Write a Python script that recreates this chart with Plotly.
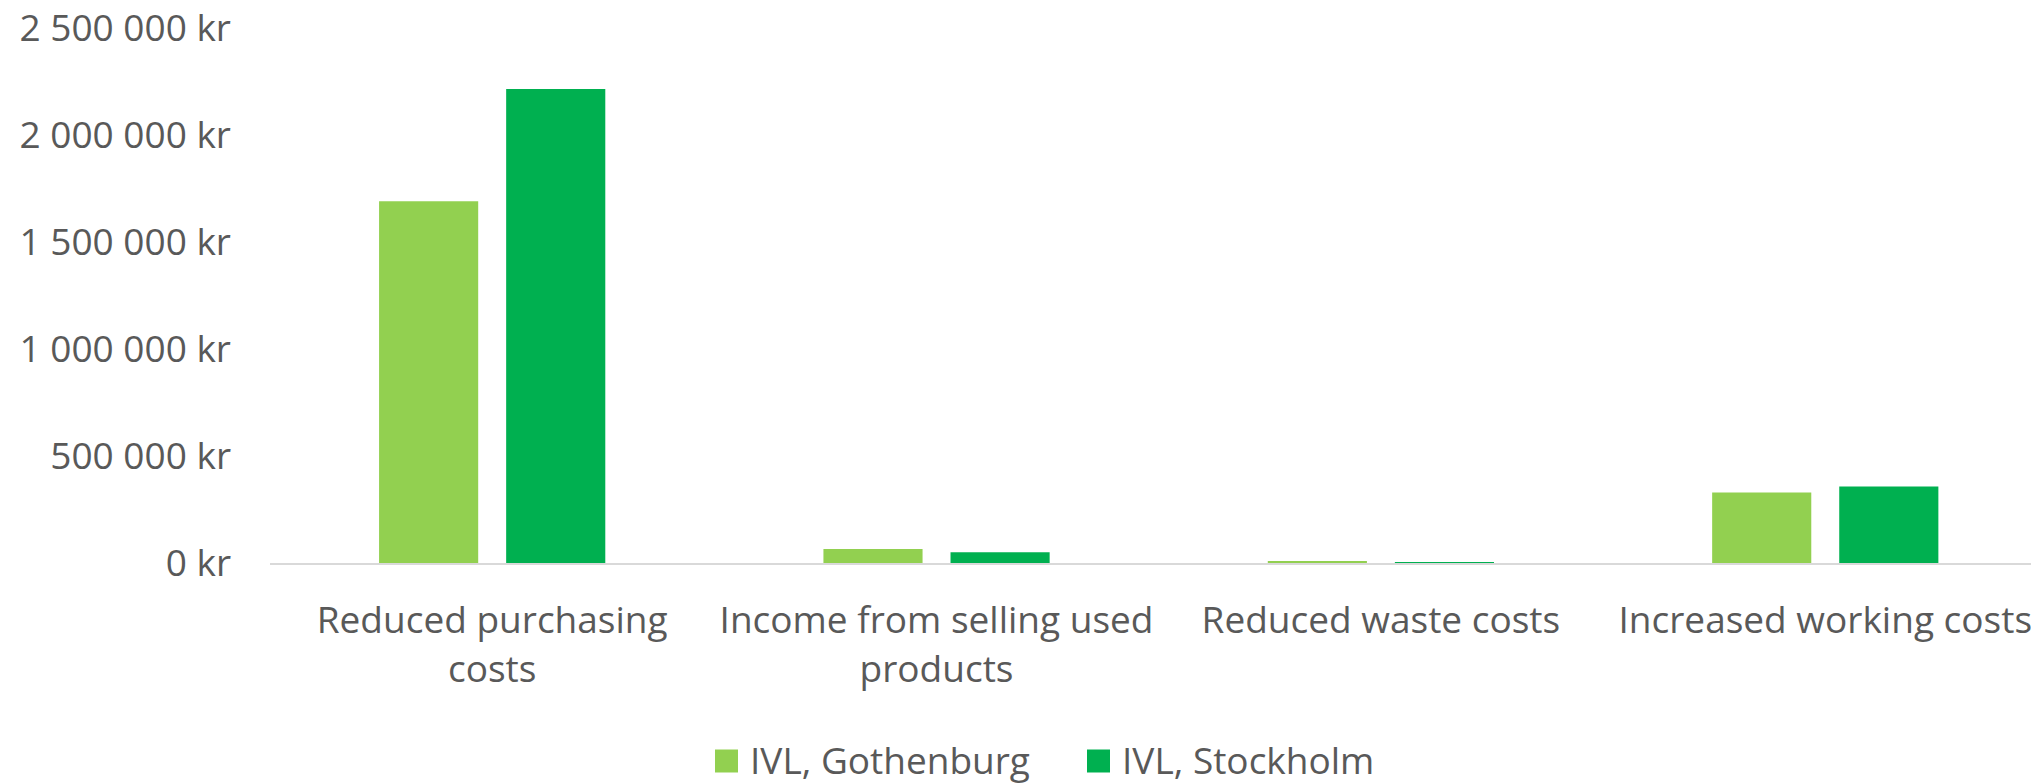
import plotly.graph_objects as go

categories = ["Reduced purchasing<br>costs", "Income from selling used<br>products",
              "Reduced waste costs", "Increased working costs"]
gothenburg = [1690000, 66000, 6000, 330000]
stockholm = [2215000, 50000, 1500, 357000]
series_names = ["IVL, Gothenburg", "IVL, Stockholm"]
colors = ["#92D050", "#00B050"]
tick_vals = [0, 500000, 1000000, 1500000, 2000000, 2500000]
tick_text = ["0 kr", "500 000 kr", "1 000 000 kr", "1 500 000 kr", "2 000 000 kr", "2 500 000 kr"]

FONT = "Open Sans"
GRAY = "#595959"
W, H = 2031, 783
ML, MR, MT, MB = 270, 0, 28, 220
PW, PH = W - ML - MR, H - MT - MB

fig = go.Figure()
for name, vals, col in zip(series_names, [gothenburg, stockholm], colors):
    fig.add_trace(go.Bar(x=categories, y=vals, name=name, showlegend=False,
                         marker=dict(color=col, line=dict(width=0))))

# legend drawn as coloured squares + text below the plot
def px_x(px):
    return (px - ML) / PW

def px_y(py):
    return (H - MB - py) / PH

legend_items = [(715, series_names[0], colors[0]), (1087, series_names[1], colors[1])]
cy = 759
sq = 23
for x0, name, col in legend_items:
    fig.add_shape(type="rect", xref="paper", yref="paper",
                  x0=px_x(x0), x1=px_x(x0 + sq), y0=px_y(cy + 2 + sq / 2), y1=px_y(cy + 2 - sq / 2),
                  fillcolor=col, line=dict(width=0))
    fig.add_annotation(xref="paper", yref="paper", x=px_x(x0 + sq + 11), y=px_y(cy),
                       xanchor="left", yanchor="middle", text=name, showarrow=False,
                       borderpad=0, font=dict(family=FONT, size=37, color=GRAY))

fig.update_layout(
    width=W, height=H,
    margin=dict(l=ML, r=MR, t=MT, b=MB, pad=0, autoexpand=False),
    paper_bgcolor="white", plot_bgcolor="white",
    barmode="group", bargap=0.428, bargroupgap=0.22,
    font=dict(family=FONT, size=37, color=GRAY),
    showlegend=False,
)
fig.update_xaxes(
    type="category", range=[-0.5, 3.463], automargin=False,
    showline=True, linecolor="#D9D9D9", linewidth=2,
    showgrid=False, zeroline=False, ticks="", ticklabelstandoff=24,
    tickfont=dict(family=FONT, size=37, color=GRAY),
)
fig.update_yaxes(
    range=[0, 2500000], tickvals=tick_vals, ticktext=tick_text, automargin=False,
    showgrid=False, zeroline=False, showline=False, ticks="",
    ticklabelstandoff=38,
    tickfont=dict(family=FONT, size=37, color=GRAY),
)

fig.write_html("out.html", config={"displayModeBar": False},
               post_script="document.body.style.margin='0';document.body.style.overflow='hidden';")
